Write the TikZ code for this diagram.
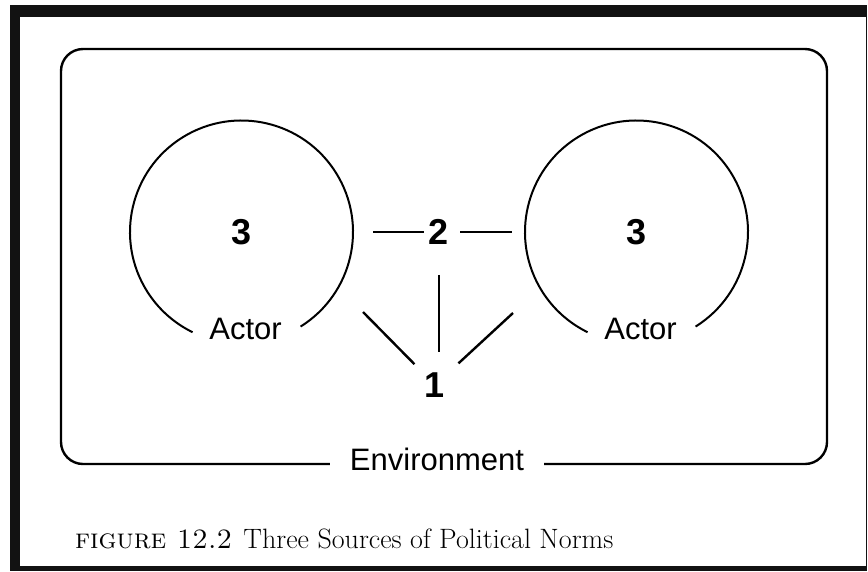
\documentclass[tikz,border=0pt]{standalone}
\usepackage{fontspec}
\newfontfamily\diagfont{Liberation Sans}
\usepackage{tikz}
\tikzset{
  ring/.style={line width=2pt},
  link/.style={line width=2.4pt},
  numtext/.style={font=\diagfont\bfseries\fontsize{36}{40}\selectfont,inner sep=3pt},
  wordtext/.style={font=\diagfont\fontsize{31}{36}\selectfont,inner sep=3pt},
}
\newcommand{\actorring}[3]{%
  \node[numtext,circle,minimum size=223pt,inner sep=0pt,outer sep=0pt] (#1) at (#2,#3) {3};%
  \draw[ring] (#1.-58) arc[start angle=-58,end angle=244,radius=111.5pt];%
  \node[wordtext] (#1lab) at ([shift={(4,97)}]#1.center) {Actor};%
}

\begin{document}
\begin{tikzpicture}[x=1pt,y=-1pt]
  \useasboundingbox (0,0) rectangle (868,571);
  \fill[black!93] (10,5) rectangle (867,571);
  \fill[white] (20,17) rectangle (866,566);
  \draw[link,rounded corners=22pt] (61,49) rectangle (827,464);
  \node[wordtext,fill=white,inner xsep=20pt] (env) at (437,459) {Environment};
  \actorring{left}{241.5}{232}
  \actorring{right}{636.5}{232}
  \node[numtext] (two) at (439,232) {2};
  \node[numtext] (one) at (435,385) {1};
  \coordinate (lfoot) at (363,312);
  \coordinate (rfoot) at (513,313);
  \draw[link,shorten <=2pt,shorten >=20pt] (two) -- (left);
  \draw[link,shorten <=8pt,shorten >=13pt] (two) -- (right);
  \draw[link,shorten <=27pt,shorten >=17pt] (two.south) -- (two.south |- one.north);
  \draw[link,shorten >=10.5pt] (lfoot) -- (one);
  \draw[link,shorten >=14pt] (rfoot) -- (one);
  \node[anchor=base west,inner sep=0pt] (caption) at (75,548)
    {\fontsize{28}{30}\selectfont\textsc{figure 12.2}\hspace{0.4em}Three Sources of Political Norms};
\end{tikzpicture}
\end{document}
